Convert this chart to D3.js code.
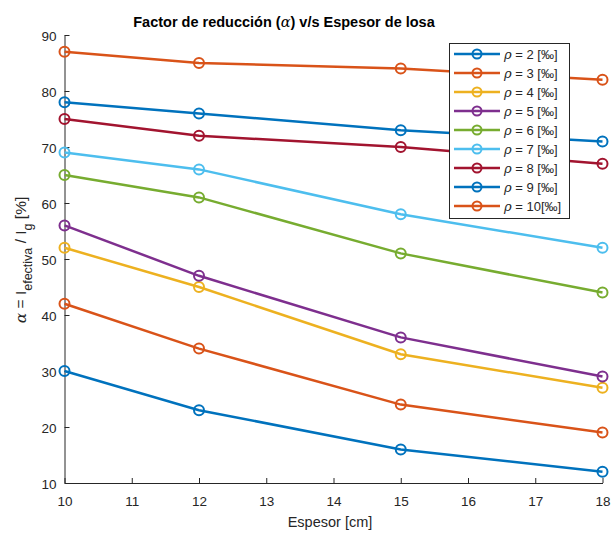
<!DOCTYPE html>
<html>
<head>
<meta charset="utf-8">
<script src="https://d3js.org/d3.v7.min.js"></script>
<style>
  body { margin: 0; background: #fff; }
  text { font-family: "Liberation Sans", Arial, Helvetica, sans-serif; }
</style>
</head>
<body>
<svg width="614" height="534"></svg>
<script>
// espesor de losa [cm]
var espesor = [10, 12, 15, 18];
var rhoLabels = ["2 [‰]", "3 [‰]", "4 [‰]", "5 [‰]", "6 [‰]", "7 [‰]", "8 [‰]", "9 [‰]", "10[‰]"];
var rho2  = [30, 23, 16, 12];
var rho3  = [42, 34, 24, 19];
var rho4  = [52, 45, 33, 27];
var rho5  = [56, 47, 36, 29];
var rho6  = [65, 61, 51, 44];
var rho7  = [69, 66, 58, 52];
var rho8  = [75, 72, 70, 67];
var rho9  = [78, 76, 73, 71];
var rho10 = [87, 85, 84, 82];
var xTicks = [10, 11, 12, 13, 14, 15, 16, 17, 18];
var yTicks = [10, 20, 30, 40, 50, 60, 70, 80, 90];

var series = [rho2, rho3, rho4, rho5, rho6, rho7, rho8, rho9, rho10];
var colors = ["#0072BD", "#D95319", "#EDB120", "#7E2F8E", "#77AC30", "#4DBEEE", "#A2142F", "#0072BD", "#D95319"];
var axisCol = "#262626";

var svg = d3.select("svg");
var x = d3.scaleLinear().domain([10, 18]).range([64.5, 602.5]);
var y = d3.scaleLinear().domain([10, 90]).range([483, 35]);

// axes
var xAxis = svg.append("g").attr("transform", "translate(0,483)")
  .call(d3.axisBottom(x).tickValues(xTicks).tickSizeInner(-5).tickSizeOuter(0).tickPadding(13));
var yAxis = svg.append("g").attr("transform", "translate(64.5,0)")
  .call(d3.axisLeft(y).tickValues(yTicks).tickSizeInner(-5).tickSizeOuter(0).tickPadding(8));
[xAxis, yAxis].forEach(function(a){
  a.selectAll("path").attr("stroke", axisCol).attr("stroke-width", 1);
  a.selectAll("line").attr("stroke", axisCol);
  a.selectAll("text").attr("fill", axisCol).style("font-size", "13.5px")
    .style("font-family", "'Liberation Sans', Arial, sans-serif");
});
yAxis.selectAll("text").attr("dy", "0.4em");

// lines
var line = d3.line().x(function(d, i){ return x(espesor[i]); }).y(function(d){ return y(d); });
series.forEach(function(s, k){
  var g = svg.append("g");
  g.append("path").datum(s).attr("d", line)
    .attr("fill", "none").attr("stroke", colors[k]).attr("stroke-width", 2.5);
  g.selectAll("circle").data(s).enter().append("circle")
    .attr("cx", function(d, i){ return x(espesor[i]); })
    .attr("cy", function(d){ return y(d); })
    .attr("r", 5).attr("fill", "none").attr("stroke", colors[k]).attr("stroke-width", 2);
});

// title
svg.append("text").attr("x", 284).attr("y", 27).attr("text-anchor", "middle")
  .style("font-size", "14.5px").style("font-weight", "bold").attr("fill", "#000")
  .html('Factor de reducción (<tspan font-style="italic" font-family="DejaVu Serif" font-weight="normal">α</tspan>) v/s Espesor de losa');

// x label
svg.append("text").attr("x", 330).attr("y", 527).attr("text-anchor", "middle")
  .style("font-size", "14.5px").attr("fill", axisCol).text("Espesor [cm]");

// y label
var yl = svg.append("text").attr("transform", "translate(26,260) rotate(-90)")
  .attr("text-anchor", "middle").style("font-size", "15.5px").attr("fill", axisCol);
yl.append("tspan").attr("font-style", "italic").attr("font-family", "DejaVu Serif").text("α");
yl.append("tspan").text(" = I");
yl.append("tspan").attr("dy", 6).style("font-size", "12.5px").text("efectiva");
yl.append("tspan").attr("dy", -6).text(" / I");
yl.append("tspan").attr("dy", 6).style("font-size", "12.5px").text("g");
yl.append("tspan").attr("dy", -6).text(" [%]");

// legend
var lg = svg.append("g");
lg.append("rect").attr("x", 449.5).attr("y", 43.5).attr("width", 120).attr("height", 175)
  .attr("fill", "#fff").attr("stroke", axisCol).attr("stroke-width", 1);
rhoLabels.forEach(function(lab, k){
  var yy = 54 + k * 19;
  lg.append("line").attr("x1", 454).attr("x2", 500).attr("y1", yy).attr("y2", yy)
    .attr("stroke", colors[k]).attr("stroke-width", 2.5);
  lg.append("circle").attr("cx", 477).attr("cy", yy).attr("r", 4.5)
    .attr("fill", "none").attr("stroke", colors[k]).attr("stroke-width", 2);
  var t = lg.append("text").attr("x", 504).attr("y", yy + 4.5)
    .style("font-size", "13px").attr("fill", axisCol);
  t.append("tspan").attr("font-style", "italic").attr("font-family", "DejaVu Serif").text("ρ");
  t.append("tspan").text(" = " + lab);
});
</script>
</body>
</html>
